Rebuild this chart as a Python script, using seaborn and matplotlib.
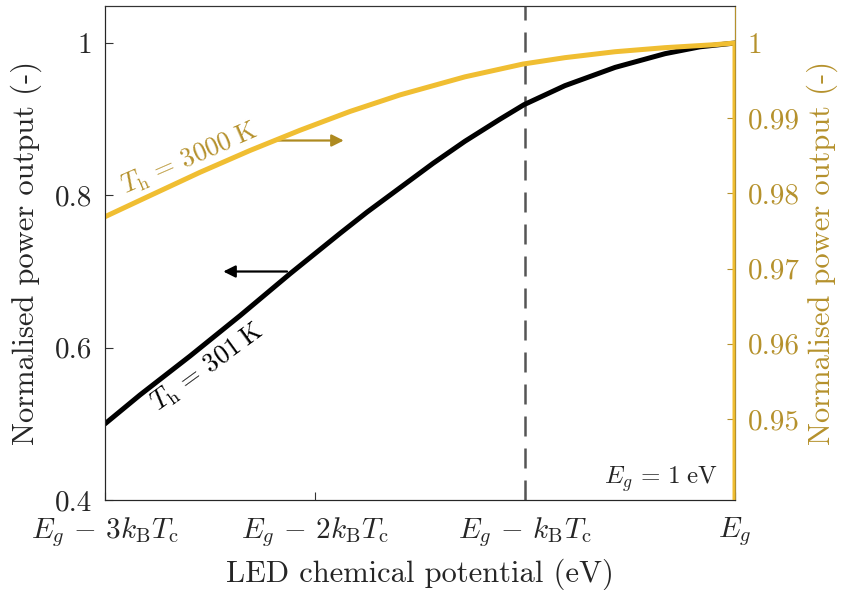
import numpy as np
import pandas as pd
import matplotlib
matplotlib.use("Agg")
import matplotlib.pyplot as plt
import seaborn as sns

# chemical potential, in units of k_B*T_c relative to Eg
mu_cold = [-3.0, -2.833, -2.595, -2.357, -2.119, -1.881, -1.752, -1.595, -1.438, -1.286,
           -1.119, -1.005, -0.810, -0.571, -0.333, -0.167, 0.0]
p_cold = [0.500, 0.538, 0.589, 0.642, 0.697, 0.750, 0.778, 0.810, 0.842, 0.871,
          0.900, 0.919, 0.944, 0.968, 0.986, 0.995, 1.0]

mu_hot = [-3.0, -2.786, -2.548, -2.310, -2.071, -1.833, -1.595, -1.286, -1.010,
          -0.810, -0.571, -0.333, -0.095, 0.0, 0.0]
p_hot = [0.9769, 0.9797, 0.9828, 0.9857, 0.9884, 0.9909, 0.9931, 0.9955, 0.9972,
         0.99805, 0.99884, 0.99938, 0.99978, 1.0, 0.0]

xticks = [-3, -2, -1, 0]
xticklabels = [r'$E_g\,-\,3k_\mathrm{B}T_\mathrm{c}$', r'$E_g\,-\,2k_\mathrm{B}T_\mathrm{c}$',
               r'$E_g\,-\,k_\mathrm{B}T_\mathrm{c}$', r'$E_g$']
left_ticks = [0.4, 0.6, 0.8, 1.0]
left_labels = ['0.4', '0.6', '0.8', '1']
right_ticks = [0.95, 0.96, 0.97, 0.98, 0.99, 1.0]
right_labels = ['0.95', '0.96', '0.97', '0.98', '0.99', '1']

sns.set_style('ticks')
plt.rcParams['font.family'] = 'serif'
plt.rcParams['font.serif'] = ['cmr10', 'DejaVu Serif']
plt.rcParams['mathtext.fontset'] = 'cm'
plt.rcParams['axes.unicode_minus'] = False

gold_line = '#F0BE32'
gold_text = '#B5912C'

cold = pd.DataFrame({'mu': mu_cold, 'p': p_cold})
hot = pd.DataFrame({'mu': mu_hot, 'p': p_hot})

fig = plt.figure(figsize=(8.41, 5.90), dpi=100)
ax = fig.add_axes([105/841, 90/590, 630/841, 494/590])
ax2 = ax.twinx()

ax.axvline(-1, color='#555555', lw=1.8, ls=(0, (8, 4.8)), zorder=1)
sns.lineplot(data=cold, x='mu', y='p', ax=ax, color='black', lw=3.6, estimator=None, sort=False)
sns.lineplot(data=hot, x='mu', y='p', ax=ax2, color=gold_line, lw=3.6, estimator=None, sort=False)

ax.set_xlim(-3, 0)
ax.set_ylim(0.4, 1.0486)
ax2.set_ylim(0.93923, 1.00492)

ax.set_xticks(xticks)
ax.set_xticklabels(xticklabels, fontsize=21)
ax.set_yticks(left_ticks)
ax.set_yticklabels(left_labels, fontsize=21)
ax2.set_yticks(right_ticks)
ax2.set_yticklabels(right_labels, fontsize=21, color=gold_text)

ax.tick_params(direction='in', length=6, width=0.8, color='#333333', pad=9)
ax.tick_params(axis='x', pad=11)
ax2.tick_params(direction='in', length=6, width=0.8, color=gold_text, pad=9)

ax.set_xlabel('LED chemical potential (eV)', fontsize=22)
ax.set_ylabel('Normalised power output (-)', fontsize=22)
ax2.set_ylabel('Normalised power output (-)', fontsize=22, color=gold_text)
ax.xaxis.set_label_coords(0.5, -0.118)
ax.yaxis.set_label_coords(-0.1, 0.5)
ax2.yaxis.set_label_coords(1.113, 0.5)

for s in ['top', 'left', 'bottom', 'right']:
    ax.spines[s].set_visible(True)
    ax.spines[s].set_color('#333333')
    ax.spines[s].set_linewidth(0.8)
ax2.spines['right'].set_color(gold_text)
ax2.spines['top'].set_color('#333333')

ax.text(-2.6, 0.848, r'$T_\mathrm{h}\,=\,3000\;\mathrm{K}$', color=gold_text, fontsize=19,
        rotation=23.5, ha='center', va='center')
ax.text(-2.51, 0.574, r'$T_\mathrm{h}\,=\,301\;\mathrm{K}$', color='black', fontsize=19,
        rotation=36, ha='center', va='center')
ax.annotate('', xy=(-2.45, 0.700), xytext=(-2.12, 0.700),
            arrowprops=dict(arrowstyle='-|>', color='black', lw=1.6, mutation_scale=18))
ax.annotate('', xy=(-1.85, 0.872), xytext=(-2.19, 0.872),
            arrowprops=dict(arrowstyle='-|>', color='#AE8A20', lw=1.6, mutation_scale=18))
ax.text(-0.08, 0.428, r'$E_g\,=\,1\;\mathrm{eV}$', fontsize=18, ha='right', va='center')

fig.savefig('out.png', dpi=100)
